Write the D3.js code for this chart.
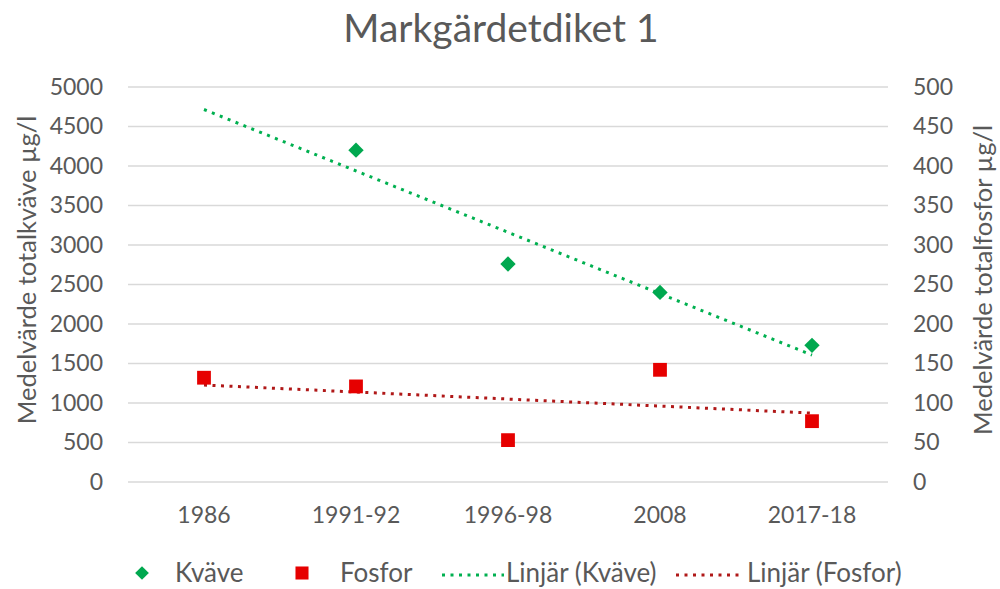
<!DOCTYPE html>
<html>
<head>
<meta charset="utf-8">
<script src="https://cdn.jsdelivr.net/npm/d3@7"></script>
<style>
  body { margin: 0; background: #fff; }
  text { font-family: Lato, "Open Sans", sans-serif; fill: #595959; }
</style>
</head>
<body>
<div id="chart"></div>
<script>
// data
var categories = ["1986", "1991-92", "1996-98", "2008", "2017-18"];
var kvave = [null, 4200, 2760, 2400, 1730];   // µg/l, left axis
var fosfor = [132, 121, 53, 142, 77];         // µg/l, right axis
var leftTicks = d3.range(0, 5001, 500);
var rightTicks = d3.range(0, 501, 50);

var width = 1000, height = 589;
var margin = {top: 87, right: 112, bottom: 107, left: 128};
var green = "#00a84f", red = "#e60000", trendGreen = "#00b050", trendRed = "#b01818";

var svg = d3.select("#chart").append("svg")
    .attr("width", width)
    .attr("height", height);

var x = d3.scaleBand()
    .domain(categories)
    .range([margin.left, width - margin.right]);

var yL = d3.scaleLinear().domain([0, 5000]).range([height - margin.bottom, margin.top]);
var yR = d3.scaleLinear().domain([0, 500]).range([height - margin.bottom, margin.top]);

function cx(i) { return x(categories[i]) + x.bandwidth() / 2; }

// gridlines
svg.append("g").selectAll("line")
    .data(leftTicks)
    .enter().append("line")
    .attr("x1", margin.left)
    .attr("x2", width - margin.right)
    .attr("y1", function(d) { return yL(d); })
    .attr("y2", function(d) { return yL(d); })
    .attr("stroke", "#d9d9d9")
    .attr("stroke-width", 1.5);

// left axis
var axL = svg.append("g")
    .attr("transform", "translate(" + margin.left + ",0)")
    .call(d3.axisLeft(yL).tickValues(leftTicks).tickFormat(d3.format("d")).tickSize(0).tickPadding(25));
axL.select(".domain").remove();
axL.selectAll("text").attr("font-size", 23).attr("font-family", null);

// right axis
var axR = svg.append("g")
    .attr("transform", "translate(" + (width - margin.right) + ",0)")
    .call(d3.axisRight(yR).tickValues(rightTicks).tickFormat(d3.format("d")).tickSize(0).tickPadding(25));
axR.select(".domain").remove();
axR.selectAll("text").attr("font-size", 23).attr("font-family", null);

// bottom axis
var axB = svg.append("g")
    .attr("transform", "translate(0," + (height - margin.bottom) + ")")
    .call(d3.axisBottom(x).tickSize(0).tickPadding(25));
axB.select(".domain").remove();
axB.selectAll("text").attr("font-size", 23).attr("font-family", null);

// titles
svg.append("text")
    .attr("x", 501)
    .attr("y", 42)
    .attr("text-anchor", "middle")
    .attr("font-size", 39)
    .text("Markgärdetdiket 1");

svg.append("text")
    .attr("transform", "translate(27,270) rotate(-90)")
    .attr("text-anchor", "middle")
    .attr("dy", "0.35em")
    .attr("font-size", 25.5)
    .text("Medelvärde totalkväve µg/l");

svg.append("text")
    .attr("transform", "translate(983,280) rotate(-90)")
    .attr("text-anchor", "middle")
    .attr("dy", "0.35em")
    .attr("font-size", 25.5)
    .text("Medelvärde totalfosfor µg/l");

// linear trendlines (least squares over available points, drawn across all categories)
function trend(vals) {
    var pts = [];
    vals.forEach(function(v, i) { if (v != null) pts.push([i + 1, v]); });
    var mx = d3.mean(pts, function(p) { return p[0]; });
    var my = d3.mean(pts, function(p) { return p[1]; });
    var sxy = d3.sum(pts, function(p) { return (p[0] - mx) * (p[1] - my); });
    var sxx = d3.sum(pts, function(p) { return (p[0] - mx) * (p[0] - mx); });
    var b = sxy / sxx, a = my - b * mx;
    return [1, vals.length].map(function(n) { return [n - 1, a + b * n]; });
}

var line = function(yScale) {
    return d3.line()
        .x(function(d) { return cx(d[0]); })
        .y(function(d) { return yScale(d[1]); });
};

svg.append("path")
    .attr("d", line(yL)(trend(kvave)))
    .attr("fill", "none")
    .attr("stroke", trendGreen)
    .attr("stroke-width", 3)
    .attr("stroke-dasharray", "3,5.5");

svg.append("path")
    .attr("d", line(yR)(trend(fosfor)))
    .attr("fill", "none")
    .attr("stroke", trendRed)
    .attr("stroke-width", 3)
    .attr("stroke-dasharray", "3,5.5");

// markers
var diamond = d3.symbol().type(d3.symbolDiamond2).size(150);
var square = d3.symbol().type(d3.symbolSquare).size(190);

svg.append("g").selectAll("path")
    .data(kvave.map(function(v, i) { return {v: v, i: i}; }).filter(function(d) { return d.v != null; }))
    .enter().append("path")
    .attr("d", diamond)
    .attr("transform", function(d) { return "translate(" + cx(d.i) + "," + yL(d.v) + ")"; })
    .attr("fill", green);

svg.append("g").selectAll("path")
    .data(fosfor)
    .enter().append("path")
    .attr("d", square)
    .attr("transform", function(d, i) { return "translate(" + cx(i) + "," + yR(d) + ")"; })
    .attr("fill", red);

// legend
var ly = 573;
var legend = svg.append("g");
legend.append("path").attr("d", d3.symbol().type(d3.symbolDiamond2).size(120))
    .attr("transform", "translate(142," + ly + ")").attr("fill", green);
legend.append("text").attr("x", 175).attr("y", ly).attr("dy", "0.35em").attr("font-size", 26).text("Kväve");
legend.append("path").attr("d", d3.symbol().type(d3.symbolSquare).size(170))
    .attr("transform", "translate(302," + ly + ")").attr("fill", red);
legend.append("text").attr("x", 340).attr("y", ly).attr("dy", "0.35em").attr("font-size", 26).text("Fosfor");
legend.append("line").attr("x1", 442).attr("x2", 504).attr("y1", ly + 2).attr("y2", ly + 2)
    .attr("stroke", trendGreen).attr("stroke-width", 3).attr("stroke-dasharray", "3,5.5");
legend.append("text").attr("x", 506).attr("y", ly).attr("dy", "0.35em").attr("font-size", 26).text("Linjär (Kväve)");
legend.append("line").attr("x1", 676).attr("x2", 744).attr("y1", ly + 2).attr("y2", ly + 2)
    .attr("stroke", trendRed).attr("stroke-width", 3).attr("stroke-dasharray", "3,5.5");
legend.append("text").attr("x", 747).attr("y", ly).attr("dy", "0.35em").attr("font-size", 26).text("Linjär (Fosfor)");
</script>
</body>
</html>
